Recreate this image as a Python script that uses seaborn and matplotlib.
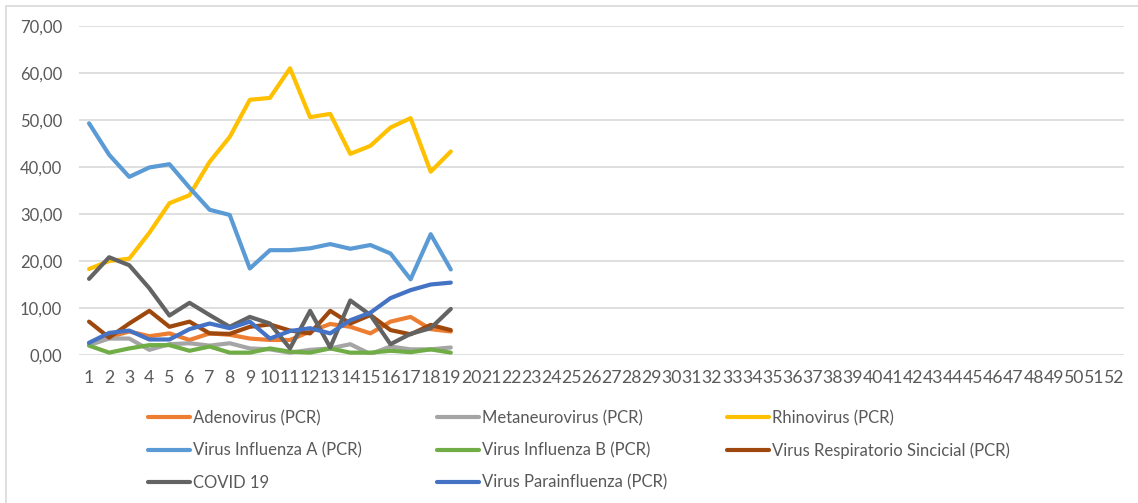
import numpy as np
import pandas as pd
import matplotlib
matplotlib.use("Agg")
import matplotlib.pyplot as plt
from matplotlib.patches import Rectangle
from matplotlib.ticker import FuncFormatter
import seaborn as sns

weeks = list(range(1, 20))
all_weeks = list(range(1, 53))

adenovirus = [2.5, 3.8, 5.0, 4.0, 4.6, 3.2, 4.6, 4.3, 3.5, 3.2, 3.2, 5.0, 6.6, 6.0, 4.6, 7.1, 8.1, 5.5, 5.0]
metaneurovirus = [2.1, 3.5, 3.5, 1.1, 2.3, 2.5, 2.0, 2.5, 1.4, 1.2, 0.5, 1.1, 1.4, 2.3, 0.2, 1.8, 1.2, 1.2, 1.6]
rhinovirus = [18.3, 20.0, 20.5, 26.0, 32.3, 34.0, 41.1, 46.4, 54.3, 54.7, 61.0, 50.6, 51.3, 42.8, 44.5, 48.4, 50.4, 39.0, 43.3]
influenza_a = [49.3, 42.6, 37.9, 39.9, 40.6, 35.6, 30.9, 29.8, 18.4, 22.3, 22.3, 22.7, 23.6, 22.6, 23.4, 21.6, 16.1, 25.7, 18.2]
influenza_b = [2.0, 0.5, 1.4, 2.1, 2.1, 0.9, 1.8, 0.5, 0.5, 1.4, 0.7, 0.5, 1.4, 0.5, 0.5, 0.9, 0.6, 1.2, 0.5]
vrs = [7.1, 3.7, 6.7, 9.4, 6.0, 7.1, 4.6, 4.5, 6.0, 6.5, 5.2, 4.6, 9.4, 6.7, 8.5, 5.3, 4.4, 6.4, 5.3]
covid = [16.2, 20.8, 19.1, 14.2, 8.4, 11.1, 8.5, 6.0, 8.1, 6.7, 1.4, 9.4, 1.6, 11.6, 8.5, 2.3, 4.5, 5.7, 9.8]
parainfluenza = [2.6, 4.7, 5.2, 3.3, 3.3, 5.5, 6.7, 5.7, 7.1, 3.5, 5.1, 5.7, 4.6, 7.4, 9.0, 12.1, 13.8, 15.0, 15.4]

series_names = [
    "Adenovirus (PCR)", "Metaneurovirus (PCR)", "Rhinovirus (PCR)",
    "Virus Influenza A (PCR)", "Virus Influenza B (PCR)",
    "Virus Respiratorio Sincicial (PCR)", "COVID 19", "Virus Parainfluenza (PCR)",
]
series_values = [adenovirus, metaneurovirus, rhinovirus, influenza_a,
                 influenza_b, vrs, covid, parainfluenza]
colors = ["#ED7D31", "#A5A5A5", "#FFC000", "#5B9BD5",
          "#70AD47", "#9E480E", "#636363", "#4472C4"]

df = pd.concat([
    pd.DataFrame({"semana": weeks, "valor": v, "serie": n})
    for n, v in zip(series_names, series_values)
], ignore_index=True)

sns.set_theme(style="white")
plt.rcParams["font.family"] = ["Lato", "DejaVu Sans"]

W, H = 1138, 503
fig = plt.figure(figsize=(W / 100, H / 100), dpi=100)
ax = fig.add_axes([79 / W, 1 - 355 / H, (1124 - 79) / W, (355 - 26) / H])

sns.lineplot(data=df, x="semana", y="valor", hue="serie", hue_order=series_names,
             palette=dict(zip(series_names, colors)), linewidth=3.0, ax=ax,
             legend=True)
for ln in ax.get_lines():
    ln.set_solid_capstyle("round")
    ln.set_solid_joinstyle("round")

handles, labels = ax.get_legend_handles_labels()
if ax.get_legend() is not None:
    ax.get_legend().remove()

ax.set_xlim(0.5, 52.5)
ax.set_ylim(0, 70)
ax.set_xticks(all_weeks)
ax.set_xticklabels([str(w) for w in all_weeks])
ax.set_yticks(np.arange(0, 71, 10))
ax.yaxis.set_major_formatter(FuncFormatter(lambda v, p: f"{v:.2f}".replace(".", ",")))
ax.set_xlabel("")
ax.set_ylabel("")
for s in ax.spines.values():
    s.set_visible(False)
ax.grid(axis="y", color="#D9D9D9", linewidth=1.2)
ax.grid(axis="x", visible=False)
ax.set_axisbelow(True)
ax.tick_params(axis="both", length=0, labelsize=12, labelcolor="#595959")
ax.tick_params(axis="x", pad=11, labelsize=12.7)
ax.tick_params(axis="y", pad=12)

# legend: three fixed columns
col_x = [148, 437, 727]
row_top = 410
hmap = dict(zip(labels, handles))
for c in range(3):
    names = series_names[c::3]
    hs = [hmap[n] for n in names]
    leg = fig.legend(hs, names, loc="upper left",
                     bbox_to_anchor=(col_x[c] / W, 1 - row_top / H),
                     frameon=False, fontsize=12, handlelength=2.5,
                     handletextpad=0.2, labelspacing=0.97,
                     borderpad=0, borderaxespad=0, labelcolor="#595959")
    for lh in leg.get_lines():
        lh.set_linewidth(3.0)

# chart area border
fig.patches.append(Rectangle((6 / W, -0.5), 2.0, 1.5 - 6 / H,
                             transform=fig.transFigure, fill=False,
                             edgecolor="#D9D9D9", linewidth=1.2))

fig.savefig("out.png", dpi=100)
